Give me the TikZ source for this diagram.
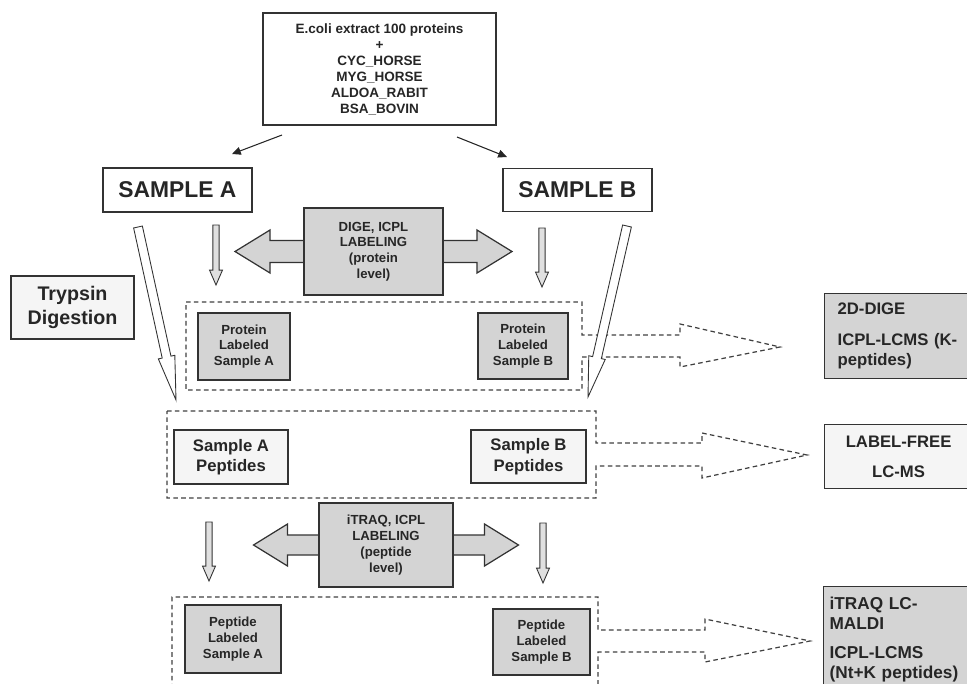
\documentclass[tikz,border=0pt]{standalone}
\usepackage{fontspec}
\setmainfont{Liberation Sans}
\usetikzlibrary{arrows.meta, calc, backgrounds}

% hohler Pfeil: Stil, Start, Spitze, halbe Schaftbreite, halbe Kopfbreite, Kopflaenge
\newcommand{\hollowarrow}[6]{%
  \draw[#1] ($(#2)!#4!90:(#3)$) -- ($(#3)!#6!(#2)!#4!90:(#3)$) -- ($(#3)!#6!(#2)!#5!90:(#3)$)
    -- (#3) -- ($(#3)!#6!(#2)!#5!-90:(#3)$) -- ($(#3)!#6!(#2)!#4!-90:(#3)$) -- ($(#2)!#4!-90:(#3)$) -- cycle;}

\begin{document}
\begin{tikzpicture}[
    x=0.02cm, y=-0.02cm,
    box/.style={draw=black!80, line width=0.7pt, rectangle, fill=white, text=black!85, align=center, inner sep=0pt},
    graybox/.style={box, fill=black!17},
    lightbox/.style={box, fill=black!4},
    resultbox/.style={box, anchor=north west, align=left},
    smalltext/.style={font=\fontsize{7.5}{9}\selectfont\bfseries},
    midtext/.style={font=\fontsize{9.5}{11.6}\selectfont\bfseries},
    group/.style={draw=black!75, line width=0.7pt, dash pattern=on 2.6pt off 1.9pt},
    arrow/.style={-{Triangle[length=5pt, width=4.5pt]}, line width=0.6pt, black!85},
    labelarrow/.style={draw=black!80, line width=0.7pt, fill=black!17},
    downarrow/.style={draw=black!80, line width=0.5pt, fill=black!12},
    digestarrow/.style={draw=black!80, line width=0.5pt, fill=white}
]
\useasboundingbox (0,0) rectangle (967,683);
\clip (0,0) rectangle (967,683);

% Ausgangsmischung
\node (mix) [box, minimum width=4.66cm, minimum height=2.24cm, font=\fontsize{7.7}{9.1}\selectfont\bfseries] at (379.5,69)
    {E.coli extract 100 proteins\\+\\CYC\_HORSE\\MYG\_HORSE\\ALDOA\_RABIT\\BSA\_BOVIN};

% Proben
\node (sampleA) [box, minimum width=2.98cm, minimum height=0.88cm, font=\fontsize{13}{15}\selectfont\bfseries] at (177.5,190) {SAMPLE A};
\node (sampleB) [box, minimum width=2.98cm, minimum height=0.86cm, font=\fontsize{13}{15}\selectfont\bfseries] at (577.5,190) {SAMPLE B};
\node (trypsin) [lightbox, minimum width=2.46cm, minimum height=1.26cm, font=\fontsize{11.2}{13.6}\selectfont\bfseries] at (72.5,307.5) {Trypsin\\Digestion};

% Markierung auf Proteinebene
\node (dige) [graybox, minimum width=2.78cm, minimum height=1.74cm, smalltext] at (373.5,251.5) {DIGE, ICPL\\LABELING\\(protein\\level)};
\node (protA) [graybox, minimum width=1.84cm, minimum height=1.34cm, smalltext] at (244,346.5) {Protein\\Labeled\\Sample A};
\node (protB) [graybox, minimum width=1.80cm, minimum height=1.32cm, smalltext] at (523,346) {Protein\\Labeled\\Sample B};

% Peptide
\node (pepA) [lightbox, minimum width=2.28cm, minimum height=1.08cm, midtext] at (231,457) {Sample A\\Peptides};
\node (pepB) [lightbox, minimum width=2.30cm, minimum height=1.06cm, midtext] at (528.5,456.5) {Sample B\\Peptides};

% Markierung auf Peptidebene
\node (itraq) [graybox, minimum width=2.68cm, minimum height=1.68cm, smalltext] at (386,545) {iTRAQ, ICPL\\LABELING\\(peptide\\level)};
\node (peplA) [graybox, minimum width=1.92cm, minimum height=1.36cm, smalltext] at (233,639) {Peptide\\Labeled\\Sample A};
\node (peplB) [graybox, minimum width=1.94cm, minimum height=1.32cm, smalltext] at (541.5,642) {Peptide\\Labeled\\Sample B};

% Analysemethoden
\node (dige2d) [resultbox, fill=black!17, minimum height=1.70cm, inner xsep=0.26cm, text width=2.6cm, midtext] at (824,293)
    {2D-DIGE\\[6pt]ICPL-LCMS (K-\\peptides)};
\node (lfree) [resultbox, fill=black!4, minimum width=2.96cm, minimum height=1.28cm, align=center, midtext] at (824,424)
    {LABEL-FREE\\[5.5pt]LC-MS};
\node (itraqlc) [resultbox, fill=black!17, minimum height=2.12cm, inner xsep=0.12cm, text width=2.9cm, font=\fontsize{9.8}{11.4}\selectfont\bfseries] at (823,586)
    {iTRAQ LC-\\MALDI\\[5pt]ICPL-LCMS\\(Nt+K peptides)};

% Verteilung auf die Proben
\coordinate (mixL) at (282,135);
\coordinate (mixR) at (457,137);
\coordinate (inA) at (232,154);
\coordinate (inB) at (507,157);
\draw [arrow] (mixL) -- (inA);
\draw [arrow] (mixR) -- (inB);

% Gruppen und Doppelpfeile im Hintergrund
\begin{scope}[on background layer]
    \draw [group] (186,302) -- (582,302) -- (582,335) -- (680,335) -- (680,324) -- (780,347) -- (680,367) -- (680,357) -- (582,357) -- (582,390) -- (186,390) -- cycle;
    \draw [group] (167,411) -- (596,411) -- (596,443) -- (702,443) -- (702,433) -- (807,455) -- (702,478) -- (702,466) -- (596,466) -- (596,498) -- (167,498) -- cycle;
    \draw [group] (172,720) -- (172,597) -- (598,597) -- (598,630) -- (705,630) -- (705,619) -- (810,641) -- (705,662) -- (705,652) -- (598,652) -- (598,720);
    \begin{scope}[shift={(dige.center)}]
        \draw [labelarrow] (-138.5,0) -- (-103.5,-21.5) -- (-103.5,-11) -- (103.5,-11) -- (103.5,-21.5) -- (138.5,0) -- (103.5,21.5) -- (103.5,11) -- (-103.5,11) -- (-103.5,21.5) -- cycle;
    \end{scope}
    \begin{scope}[shift={(itraq.center)}]
        \draw [labelarrow] (-132.5,0) -- (-98.5,-21) -- (-98.5,-10) -- (98.5,-10) -- (98.5,-21) -- (132.5,0) -- (98.5,21) -- (98.5,10) -- (-98.5,10) -- (-98.5,21) -- cycle;
    \end{scope}
\end{scope}

% kleine Pfeile zur Markierung
\coordinate (dA1) at (216,225);
\coordinate (dA1e) at (216,285);
\coordinate (dB1) at (542,228);
\coordinate (dB1e) at (542,287);
\coordinate (dA2) at (209,522);
\coordinate (dA2e) at (209,581);
\coordinate (dB2) at (543,523);
\coordinate (dB2e) at (543,583);
\hollowarrow{downarrow}{dA1}{dA1e}{1.8pt}{3.7pt}{8.5pt}
\hollowarrow{downarrow}{dB1}{dB1e}{1.8pt}{3.7pt}{8.5pt}
\hollowarrow{downarrow}{dA2}{dA2e}{1.8pt}{3.7pt}{8.5pt}
\hollowarrow{downarrow}{dB2}{dB2e}{1.8pt}{3.7pt}{8.5pt}

% Trypsinverdau
\coordinate (digA) at (138,227);
\coordinate (digAe) at (176,400);
\coordinate (digB) at (627,226);
\coordinate (digBe) at (588,397);
\hollowarrow{digestarrow}{digA}{digAe}{2.55pt}{4.8pt}{25pt}
\hollowarrow{digestarrow}{digB}{digBe}{2.55pt}{4.8pt}{23pt}

\end{tikzpicture}
\end{document}
